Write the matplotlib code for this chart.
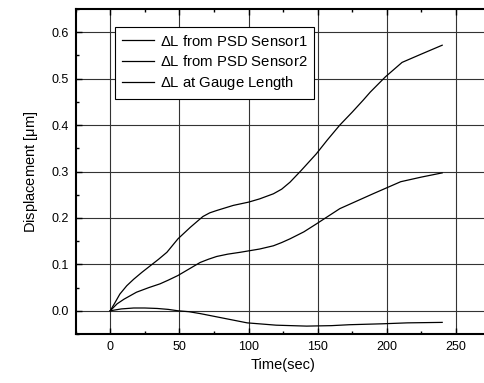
import numpy as np
import matplotlib
matplotlib.use('Agg')
import matplotlib.pyplot as plt
from matplotlib.ticker import MultipleLocator

# readings
t1 = [0, 3, 7, 12, 17, 23, 29, 35, 41, 49, 58, 67, 72, 77, 89, 100, 108, 118, 124, 130, 138, 149, 157, 166, 175, 183, 188, 199, 211, 225, 240]
s1 = [0, 0.015, 0.036, 0.054, 0.068, 0.083, 0.097, 0.111, 0.126, 0.155, 0.180, 0.203, 0.211, 0.216, 0.227, 0.234, 0.241, 0.252, 0.262, 0.277, 0.302, 0.338, 0.368, 0.400, 0.428, 0.454, 0.471, 0.504, 0.535, 0.553, 0.572]

t2 = [0, 5, 10, 19, 28, 36, 42, 49, 57, 65, 71, 77, 85, 94, 108, 118, 124, 130, 140, 149, 166, 190, 200, 210, 225, 240]
s2 = [0, 0.015, 0.025, 0.040, 0.050, 0.058, 0.066, 0.076, 0.090, 0.104, 0.111, 0.117, 0.122, 0.126, 0.133, 0.140, 0.147, 0.155, 0.170, 0.187, 0.220, 0.252, 0.265, 0.278, 0.288, 0.297]

t3 = [0, 8, 17, 25, 34, 42, 49, 57, 65, 82, 99, 120, 142, 160, 173, 197, 215, 240]
s3 = [0, 0.004, 0.006, 0.006, 0.005, 0.003, 0.0, -0.002, -0.006, -0.016, -0.026, -0.031, -0.033, -0.032, -0.030, -0.028, -0.026, -0.025]

labels = ['$\\Delta$L from PSD Sensor1', '$\\Delta$L from PSD Sensor2', '$\\Delta$L at Gauge Length']

plt.rcParams['font.family'] = ['Liberation Sans', 'DejaVu Sans']
plt.rcParams['mathtext.fontset'] = 'custom'
plt.rcParams['mathtext.rm'] = 'Liberation Sans'
plt.rcParams['mathtext.it'] = 'Liberation Sans'

fig = plt.figure(figsize=(4.85, 3.83), dpi=100)
ax = fig.add_axes([75.6 / 485, 49 / 383, 415 / 485, 325 / 383])

ax.plot(t1, s1, color='black', lw=0.9, label=labels[0])
ax.plot(t2, s2, color='black', lw=0.9, label=labels[1])
ax.plot(t3, s3, color='black', lw=0.9, label=labels[2])

ax.set_xlim(-25, 275)
ax.set_ylim(-0.05, 0.65)
ax.xaxis.set_minor_locator(MultipleLocator(25))
ax.yaxis.set_minor_locator(MultipleLocator(0.05))
ax.yaxis.set_major_formatter(matplotlib.ticker.FormatStrFormatter('%.1f'))
ax.set_xticks([0, 50, 100, 150, 200, 250])
ax.set_yticks([0.0, 0.1, 0.2, 0.3, 0.4, 0.5, 0.6])

ax.grid(True, which='major', color='0.2', lw=0.8)
ax.tick_params(which='both', direction='in', top=True, right=False, labelsize=9)
ax.tick_params(which='major', length=4, width=1, pad=5)
ax.tick_params(which='minor', length=2.5, width=1)
for s in ax.spines.values():
    s.set_linewidth(1.5)

ax.set_xlabel('Time(sec)', fontsize=10.5)
ax.set_ylabel('Displacement [$\\mu$m]', fontsize=10.5, labelpad=8)

leg = ax.legend(loc='upper left', bbox_to_anchor=(0.095, 0.945), fontsize=10.7,
                frameon=True, fancybox=False, framealpha=1, edgecolor='black',
                handlelength=2.2, handletextpad=0.35, borderpad=0.45,
                labelspacing=0.35, borderaxespad=0)
leg.get_frame().set_linewidth(0.8)

fig.savefig('out.png', dpi=100)
